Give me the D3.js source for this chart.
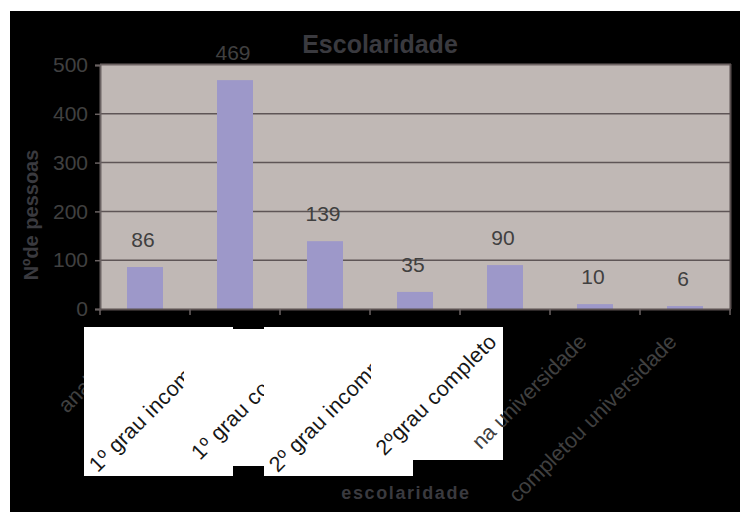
<!DOCTYPE html>
<html>
<head>
<meta charset="utf-8">
<script src="https://cdn.jsdelivr.net/npm/d3@7"></script>
<style>
  html, body { margin: 0; padding: 0; background: #ffffff; }
  svg { display: block; font-family: "Liberation Sans", Arial, sans-serif; }
</style>
</head>
<body>
<svg id="chart" width="740" height="512"></svg>
<script>
// Escolaridade: number of people per schooling level
const categories = [
  "analfabeto",
  "1º grau incompleto",
  "1º grau completo",
  "2º grau incompleto",
  "2ºgrau completo",
  "na universidade",
  "completou universidade"
];
const values = [86, 469, 139, 35, 90, 10, 6];
const yTicks = [0, 100, 200, 300, 400, 500];

const svg = d3.select("#chart");
const W = 740, H = 512;
const plot = { left: 100, right: 730, top: 65, bottom: 309 };

const textGray = "#404040";
const titleGray = "#3a3a3f";

// outer black frame
svg.append("rect").attr("x", 10).attr("y", 11).attr("width", W - 10).attr("height", H - 11).attr("fill", "#000");

const x = d3.scaleBand().domain(categories).range([plot.left, plot.right])
  .paddingInner(0.6).paddingOuter(0.3);
const y = d3.scaleLinear().domain([0, 500]).range([plot.bottom, plot.top]);

// plot area
svg.append("rect")
  .attr("x", plot.left).attr("y", plot.top)
  .attr("width", plot.right - plot.left).attr("height", plot.bottom - plot.top)
  .attr("fill", "#c0b8b5");

// gridlines
svg.append("g").selectAll("line").data(yTicks.filter(t => t > 0 && t < 500)).join("line")
  .attr("x1", plot.left).attr("x2", plot.right)
  .attr("y1", d => y(d)).attr("y2", d => y(d))
  .attr("stroke", "#5e5556").attr("stroke-width", 1.5);

// plot border (top and right)
svg.append("line").attr("x1", plot.left).attr("x2", plot.right + 1)
  .attr("y1", plot.top - 0.5).attr("y2", plot.top - 0.5)
  .attr("stroke", "#6e6464").attr("stroke-width", 2);
svg.append("line").attr("x1", plot.right + 0.5).attr("x2", plot.right + 0.5)
  .attr("y1", plot.top - 1).attr("y2", plot.bottom)
  .attr("stroke", "#5a5050").attr("stroke-width", 2);

// bars
svg.append("g").selectAll("rect").data(values).join("rect")
  .attr("x", (d, i) => x(categories[i]))
  .attr("y", d => y(d))
  .attr("width", x.bandwidth())
  .attr("height", d => plot.bottom - y(d))
  .attr("fill", "#9d98c9");

// value labels
svg.append("g").selectAll("text").data(values).join("text")
  .attr("x", (d, i) => x(categories[i]) + x.bandwidth() / 2 - 2)
  .attr("y", d => y(d) - 20)
  .attr("text-anchor", "middle")
  .attr("font-size", 21)
  .attr("fill", textGray)
  .text(d => d);

// y axis
const yAxis = svg.append("g").attr("transform", `translate(${plot.left},0)`)
  .call(d3.axisLeft(y).tickValues(yTicks).tickSize(5).tickPadding(7));
yAxis.select(".domain").attr("stroke", "#6a6262").attr("stroke-width", 2);
yAxis.selectAll(".tick line").attr("stroke", "#6a6262").attr("stroke-width", 1.5);
yAxis.selectAll(".tick text").attr("font-size", 21).attr("fill", textGray)
  .attr("font-family", "Liberation Sans, Arial, sans-serif");

// x axis line and tick marks at category boundaries
const bounds = d3.range(categories.length + 1).map(i => plot.left + i * x.step());
svg.append("line").attr("x1", plot.left - 1).attr("x2", plot.right + 1)
  .attr("y1", plot.bottom + 0.5).attr("y2", plot.bottom + 0.5)
  .attr("stroke", "#5a5050").attr("stroke-width", 2);
svg.append("g").selectAll("line").data(bounds).join("line")
  .attr("x1", d => d).attr("x2", d => d)
  .attr("y1", plot.bottom).attr("y2", plot.bottom + 6)
  .attr("stroke", "#6a6262").attr("stroke-width", 1.5);

// category labels, rotated
const labelPos = i => [x(categories[i]) + x.bandwidth() / 2 - 7, 343];
function catLabel(g, i, fill) {
  const [lx, ly] = labelPos(i);
  return g.append("text")
    .attr("transform", `translate(${lx},${ly}) rotate(-45)`)
    .attr("text-anchor", "end")
    .attr("font-size", 21.5)
    .attr("fill", fill)
    .text(categories[i]);
}

// first label sits beneath the white panel
catLabel(svg.append("g"), 0, textGray);

// pasted white label panel
svg.append("path")
  .attr("d", "M84,327 H233 V329 H264 V327 H503 V460 H413 V476 H264 V466 H233 V476 H84 Z")
  .attr("fill", "#ffffff");

// dark labels on the panel, each shown only inside its strip
const strips = [null, [84, 184], [184, 264], [264, 371], [371, 503]];
const defs = svg.append("defs");
for (let i = 1; i <= 4; i++) {
  defs.append("clipPath").attr("id", "strip" + i)
    .append("rect").attr("x", strips[i][0]).attr("y", 327)
    .attr("width", strips[i][1] - strips[i][0]).attr("height", 149);
  const g = svg.append("g").attr("clip-path", `url(#strip${i})`);
  catLabel(g, i, "#161616").attr("letter-spacing", 0.3);
}

// remaining labels drawn over the panel
const upper = svg.append("g");
catLabel(upper, 5, textGray);
catLabel(upper, 6, textGray);

// title
svg.append("text")
  .attr("x", 380).attr("y", 53)
  .attr("text-anchor", "middle")
  .attr("font-size", 25).attr("font-weight", "bold")
  .attr("fill", titleGray)
  .text("Escolaridade");

// y axis title
svg.append("text")
  .attr("transform", "translate(38,215) rotate(-90)")
  .attr("text-anchor", "middle")
  .attr("font-size", 20).attr("font-weight", "bold")
  .attr("fill", titleGray)
  .text("Nºde pessoas");

// x axis title
svg.append("text")
  .attr("x", 406).attr("y", 499)
  .attr("text-anchor", "middle")
  .attr("font-size", 18).attr("font-weight", "bold")
  .attr("letter-spacing", 1.6)
  .attr("fill", titleGray)
  .text("escolaridade");
</script>
</body>
</html>
